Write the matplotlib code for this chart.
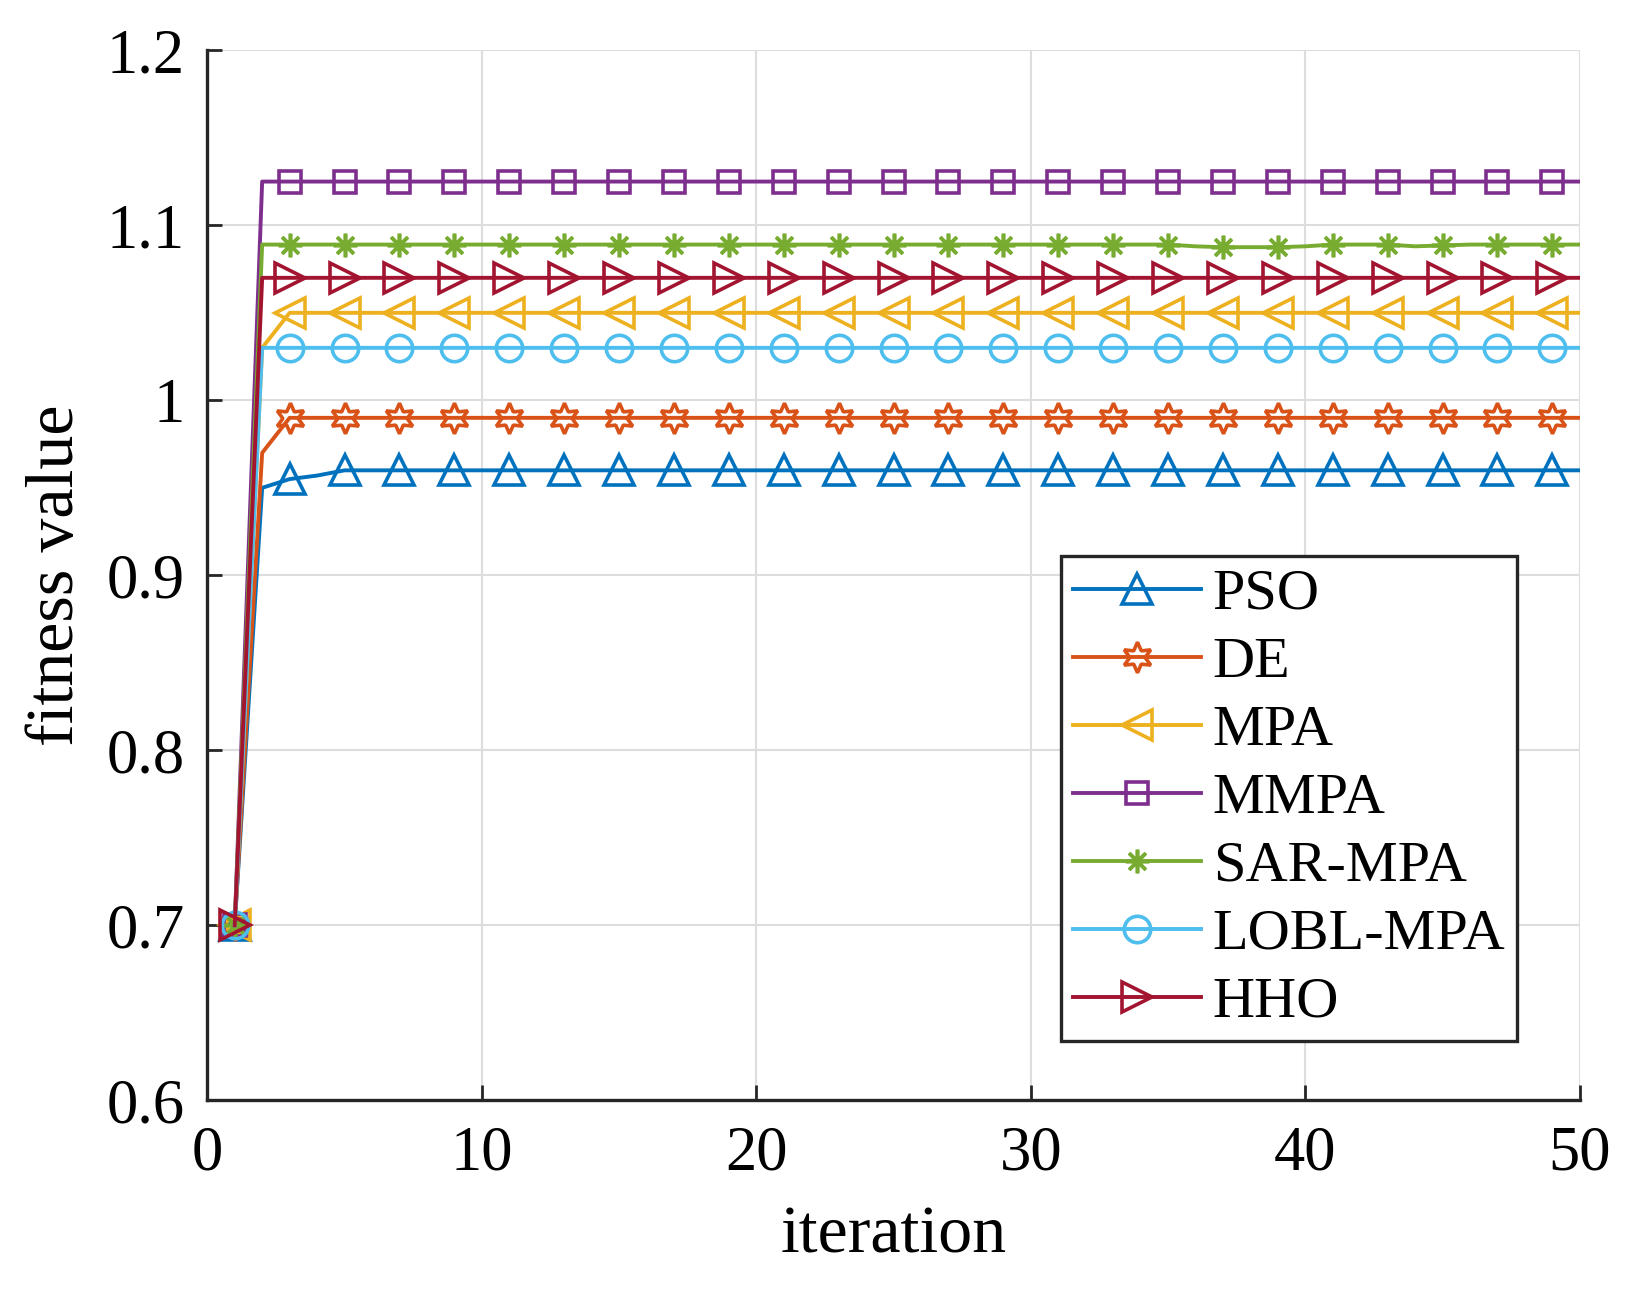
import numpy as np
import matplotlib
matplotlib.use('Agg')
import matplotlib.pyplot as plt

plt.rcParams['font.family'] = ['Liberation Serif', 'DejaVu Serif']
plt.rcParams['mathtext.fontset'] = 'stix'

# iterations 1..50
iters = np.arange(1, 51)

pso = [0.70, 0.95, 0.955, 0.957] + [0.96] * 46
de = [0.70, 0.97] + [0.99] * 48
mpa = [0.70, 1.03] + [1.05] * 48
mmpa = [0.70] + [1.125] * 49
sar = ([0.70] + [1.089] * 34 + [1.088, 1.0875, 1.0875, 1.0875, 1.088]
       + [1.089] * 3 + [1.088, 1.0885] + [1.089] * 5)
lobl = [0.70] + [1.03] * 49
hho = [0.70] + [1.07] * 49

names = ['PSO', 'DE', 'MPA', 'MMPA', 'SAR-MPA', 'LOBL-MPA', 'HHO']
series = [pso, de, mpa, mmpa, sar, lobl, hho]
colors = ['#0072BD', '#D95319', '#EDB120', '#7E2F8E', '#77AC30', '#4DBEEE', '#A2142F']
markers = ['^', (6, 1, 0), '<', 's', (8, 2, 0), 'o', '>']
msizes = [22, 22, 22, 16, 17, 19, 22]

fig = plt.figure(figsize=(16.32, 12.9), dpi=100)
ax = fig.add_axes([0.127, 0.147, 0.841, 0.814])

for name, vals, c, m, s in zip(names, series, colors, markers, msizes):
    ax.plot(iters, vals, color=c, lw=2.8, marker=m, ms=s, markevery=2,
            mfc='none', mec=c, mew=2.6, label=name)

ax.set_xlim(0, 50)
ax.set_ylim(0.6, 1.2)
ax.set_xticks([0, 10, 20, 30, 40, 50])
ax.set_yticks([0.6, 0.7, 0.8, 0.9, 1.0, 1.1, 1.2])
ax.set_yticklabels(['0.6', '0.7', '0.8', '0.9', '1', '1.1', '1.2'])
ax.grid(True, color='#dddddd', lw=1.5)
ax.set_axisbelow(True)

for side in ['top', 'right']:
    ax.spines[side].set_visible(False)
for side in ['left', 'bottom']:
    ax.spines[side].set_linewidth(2.4)
    ax.spines[side].set_color('#262626')

ax.tick_params(direction='in', length=11, width=2, color='#262626',
               labelsize=45)
ax.tick_params(axis='x', pad=18)
ax.tick_params(axis='y', pad=16)
ax.set_xlabel('iteration', fontsize=49, labelpad=16)
ax.set_ylabel('fitness value', fontsize=49, labelpad=14)

leg = ax.legend(loc='upper left', bbox_to_anchor=(0.622, 0.518), fontsize=42,
                fancybox=False, framealpha=1, edgecolor='#262626',
                handlelength=2.2, handletextpad=0.2, labelspacing=0.26,
                borderpad=0.2, borderaxespad=0)
leg.get_frame().set_linewidth(2.4)

plt.savefig('out.png', dpi=100)
